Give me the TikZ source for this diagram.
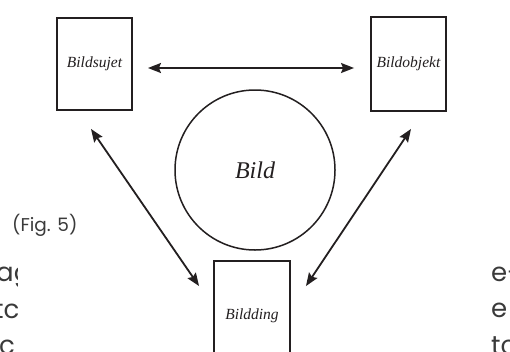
\documentclass[tikz,border=0pt]{standalone}
\usepackage{fontspec}
\setmainfont{Liberation Serif}
\newfontfamily\pop{Poppins}
\usetikzlibrary{arrows.meta,calc}
\definecolor{ink}{HTML}{231F20}
\definecolor{pagetext}{HTML}{3A3A3A}
\tikzset{
  box/.style={draw=ink, line width=1.9pt, rectangle, minimum width=75pt, inner sep=0pt, font=\fontsize{15.5}{18}\selectfont\itshape, text=ink},
  conn/.style={draw=ink, line width=1.8pt, {Stealth[length=13pt,width=10pt,inset=2pt]}-{Stealth[length=13pt,width=10pt,inset=2pt]}},
  frag/.style={anchor=base west, inner sep=0pt, font=\pop\fontsize{26}{30}\selectfont, text=pagetext}
}
\begin{document}
\begin{tikzpicture}[x=1pt,y=-1pt]
\useasboundingbox[fill=white] (0,0) rectangle (510,351);
% page text fragments
\begin{scope}
\clip (0,250) rectangle (17,351);
\node[frag] (fa) at (-4,281) {ag};
\node[frag] (fb) at (-6,318) {tc};
\node[frag] (fc) at (-1,354) {c};
\end{scope}
\begin{scope}
\clip (490,250) rectangle (510,351);
\node[frag] (fd) at (491,281) {e-};
\node[frag] (fe) at (491,317) {e};
\node[frag] (ff) at (491,354) {tc};
\end{scope}
\node[anchor=base west, inner sep=0pt, font=\pop\fontsize{18.5}{22}\selectfont, text=pagetext] (cap) at (12,231) {(Fig. 5)};
% diagram
\node[box, minimum height=92pt] (sujet) at (94.5,64) {\raisebox{2pt}{Bildsujet}};
\node[box, minimum height=94pt] (objekt) at (408.5,64) {\raisebox{2pt}{Bildobjekt}};
\node[box, minimum width=76pt, minimum height=110pt] (ding) at (252,316) {\raisebox{1pt}{Bildding}};
\node[draw=ink, line width=1.5pt, circle, minimum size=160pt, inner sep=0pt, font=\fontsize{24}{28}\selectfont\itshape, text=ink] (bild) at (255,170) {Bild};
\draw[conn] ($(sujet.east)+(15,4)$) -- ($(objekt.west)+(-16,4)$);
\draw[conn] ($(sujet.south)+(-3.5,18)$) -- ($(ding.north west)+(-14,26)$);
\draw[conn] ($(objekt.south)+(2.5,17)$) -- ($(ding.north east)+(15,26)$);
\end{tikzpicture}
\end{document}
